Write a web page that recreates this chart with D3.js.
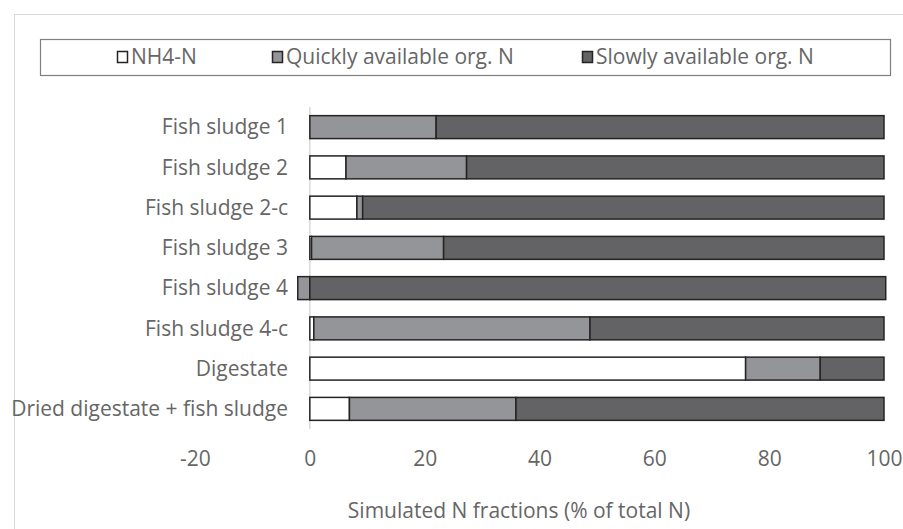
<!DOCTYPE html>
<html><head><meta charset="utf-8">
<script src="https://cdn.jsdelivr.net/npm/d3@7/dist/d3.min.js"></script>
<style>body{margin:0;background:#fff}svg{display:block}</style>
</head><body>
<svg id="c" width="903" height="529"></svg>
<script>
const categories = ["Fish sludge 1","Fish sludge 2","Fish sludge 2-c","Fish sludge 3","Fish sludge 4","Fish sludge 4-c","Digestate","Dried digestate + fish sludge"];
const seriesNames = ["NH4-N","Quickly available org. N","Slowly available org. N"];
const nh4   = [0, 6.3, 8.2, 0.3, 0, 0.7, 75.9, 6.9];
const quick = [22, 21, 1.0, 23.0, -2.1, 48.1, 13.0, 29.0];
const slow  = [78, 72.7, 90.8, 76.7, 100.3, 51.2, 11.1, 64.1];
const xTicks = [-20, 0, 20, 40, 60, 80, 100];
const colors = ["#ffffff", "#939598", "#636365"];

const svg = d3.select("#c");
const font = "'Open Sans', sans-serif";
const txt = "#666666";
const fs = 21;

svg.append("rect").attr("x",14.5).attr("y",14.5).attr("width",903).attr("height",529)
  .attr("fill","none").attr("stroke","#d9d9d9").attr("stroke-width",1);

const x = d3.scaleLinear().domain([-20,100]).range([195,884]);
const y = d3.scaleBand().domain(categories).range([107,429]).paddingInner(0.43).paddingOuter(0.215);

const series = [nh4, quick, slow];
const segs = [];
categories.forEach((c,i)=>{
  let pos = 0, neg = 0;
  series.forEach((s,k)=>{
    const v = s[i];
    let x0, x1;
    if (v >= 0) { x0 = pos; x1 = pos + v; pos = x1; }
    else { x1 = neg; x0 = neg + v; neg = x0; }
    segs.push({c, k, x0, x1});
  });
});

svg.append("line").attr("x1",x(0)).attr("x2",x(0)).attr("y1",107).attr("y2",429)
  .attr("stroke","#d9d9d9").attr("stroke-width",1.5);

svg.append("g").selectAll("rect").data(segs.filter(d=>d.x1!==d.x0)).join("rect")
  .attr("x", d=>x(d.x0)).attr("width", d=>x(d.x1)-x(d.x0))
  .attr("y", d=>y(d.c)).attr("height", y.bandwidth())
  .attr("fill", d=>colors[d.k]).attr("stroke","#262324").attr("stroke-width",1.5);

let stretch = 100, best = 1e9;
const probe = svg.append("text").attr("font-family",font).attr("font-size",fs).text(categories[7]);
for (let s = 75; s <= 100; s += 1) {
  probe.style("font-stretch", s + "%");
  const w = probe.node().getComputedTextLength();
  if (Math.abs(w - 271) < best) { best = Math.abs(w - 271); stretch = s; }
}
probe.remove();

function styleText(sel){
  return sel.attr("font-family",font).attr("font-size",fs).style("font-stretch",stretch+"%").attr("fill",txt);
}

styleText(svg.append("g").selectAll("text").data(categories).join("text"))
  .attr("x",288).attr("y",d=>y(d)+y.bandwidth()/2)
  .attr("text-anchor","end").attr("dy","0.35em").text(d=>d);

const ax = d3.axisBottom(x).tickValues(xTicks).tickFormat(d=>String(d)).tickSize(0).tickPadding(0);
const g = svg.append("g").attr("transform","translate(0,459)").call(ax);
g.select(".domain").remove();
g.selectAll(".tick line").remove();
styleText(g.selectAll("text")).attr("dy","0.35em").attr("y",0);

styleText(svg.append("text")).attr("x",519).attr("y",511).attr("text-anchor","middle").attr("dy","0.35em")
  .text("Simulated N fractions (% of total N)");

svg.append("rect").attr("x",40.5).attr("y",39.5).attr("width",850).attr("height",36)
  .attr("fill","#fff").attr("stroke","#7f7f7f").attr("stroke-width",1.2);
const legX = [117, 272, 582];
const lg = svg.append("g").selectAll("g").data(seriesNames).join("g")
  .attr("transform",(d,i)=>`translate(${legX[i]},57)`);
lg.append("rect").attr("x",0.5).attr("y",-5.5).attr("width",10).attr("height",11)
  .attr("fill",(d,i)=>colors[i]).attr("stroke","#262324").attr("stroke-width",1.5);
styleText(lg.append("text")).attr("x",14).attr("dy","0.35em").text(d=>d);
</script>
</body></html>
